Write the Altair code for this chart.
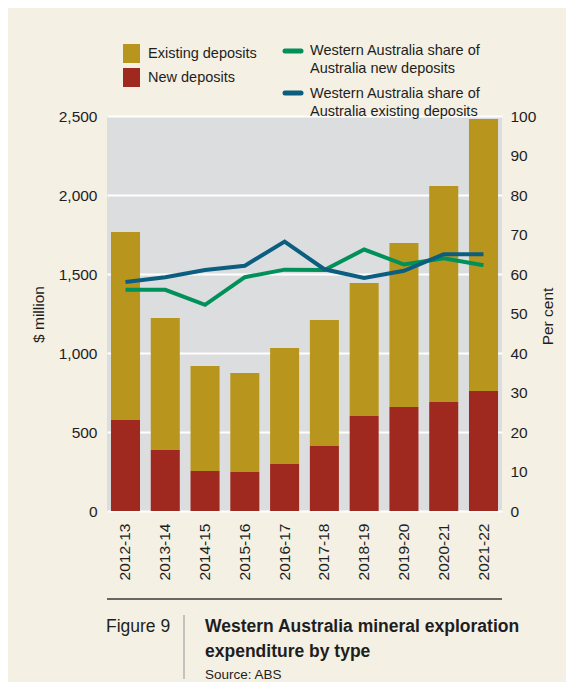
import altair as alt
import pandas as pd

years = ["2012-13", "2013-14", "2014-15", "2015-16", "2016-17",
         "2017-18", "2018-19", "2019-20", "2020-21", "2021-22"]
new_deposits = [576, 386, 253, 247, 297, 411, 601, 658, 690, 759]
existing_deposits = [1190, 836, 665, 626, 735, 798, 842, 1038, 1367, 1722]
share_new = [56, 56, 52.2, 59.2, 61.1, 61, 66.2, 62.4, 64, 62.2]
share_existing = [58, 59.2, 61, 62.1, 68.2, 61.2, 59, 60.8, 65, 65]

FONT = "Liberation Sans Narrow, Arial Narrow, Liberation Sans, Arial"
GOLD = "#B8961D"
RED = "#A0291F"
GREEN = "#00905A"
BLUE = "#0B5E80"
CREAM = "#F4F0E3"
PLOTBG = "#DCDDDF"
TXT = "#1E1E1E"
AX = 15.5

bars_df = pd.DataFrame({
    "year": years * 2,
    "type": ["New deposits"] * 10 + ["Existing deposits"] * 10,
    "value": new_deposits + existing_deposits,
    "order": [0] * 10 + [1] * 10,
})
lines_df = pd.DataFrame({
    "year": years * 2,
    "series": ["new"] * 10 + ["existing"] * 10,
    "pct": share_new + share_existing,
})

W, H = 395, 395

xenc = alt.X("year:N", sort=years,
             scale=alt.Scale(paddingInner=0.27, paddingOuter=0.1),
             axis=alt.Axis(title=None, labelAngle=270, labelAlign="right",
                           labelBaseline="middle", labelPadding=12,
                           labelFontSize=AX, domain=False, ticks=False))

bars = alt.Chart(bars_df).mark_bar().encode(
    x=xenc,
    y=alt.Y("value:Q", stack="zero",
            scale=alt.Scale(domain=[0, 2500], nice=False),
            axis=alt.Axis(title="$ million", values=[0, 500, 1000, 1500, 2000, 2500],
                          format=",.0f", grid=True, gridColor="white", gridWidth=2,
                          domain=False, ticks=False, labelPadding=10,
                          titleX=-69, titleY=198, titleAngle=270, titleAlign="center",
                          titleBaseline="middle",
                          titleFontSize=AX, titleFontWeight="normal",
                          labelFontSize=AX)),
    color=alt.Color("type:N", scale=alt.Scale(domain=["Existing deposits", "New deposits"],
                                             range=[GOLD, RED]), legend=None),
    order=alt.Order("order:Q"),
)

lines = alt.Chart(lines_df).mark_line(strokeWidth=4).encode(
    x=alt.X("year:N", sort=years),
    y=alt.Y("pct:Q", scale=alt.Scale(domain=[0, 100], nice=False),
            axis=alt.Axis(title="Per cent", orient="right", values=list(range(0, 101, 10)),
                          grid=False, domain=False, ticks=False, labelPadding=8,
                          titleX=45, titleY=200, titleAngle=270, titleAlign="center",
                          titleBaseline="middle",
                          titleFontSize=AX, titleFontWeight="normal", labelFontSize=AX)),
    color=alt.Color("series:N", scale=alt.Scale(domain=["new", "existing"],
                                               range=[GREEN, BLUE]), legend=None),
)

one = pd.DataFrame({"a": [0]})

def rect(x1, x2, y1, y2, color):
    return alt.Chart(one).mark_rect(color=color).encode(
        x=alt.value(x1), x2=alt.value(x2), y=alt.value(y1), y2=alt.value(y2))

def rule(x1, x2, y1, y2, color, w, cap="butt"):
    return alt.Chart(one).mark_rule(color=color, strokeWidth=w, strokeCap=cap).encode(
        x=alt.value(x1), x2=alt.value(x2), y=alt.value(y1), y2=alt.value(y2))

def text(t, x, y, size, weight="normal", baseline="middle", lh=None):
    kw = dict(align="left", baseline=baseline, font=FONT, fontSize=size,
              fontWeight=weight, color=TXT, lineBreak="\n")
    if lh:
        kw["lineHeight"] = lh
    return alt.Chart(pd.DataFrame({"t": [t]})).mark_text(**kw).encode(
        text="t:N", x=alt.value(x), y=alt.value(y))

LG = 14.5
legend = [
    rect(16, 33, -72, -53, GOLD),
    rect(16, 33, -48, -29, RED),
    text("Existing deposits", 41, -62, LG),
    text("New deposits", 41, -38, LG),
    rule(178, 194, -65, -65, GREEN, 5, "round"),
    text("Western Australia share of\nAustralia new deposits", 203, -65, LG, lh=17.5),
    rule(178, 194, -23, -23, BLUE, 5, "round"),
    text("Western Australia share of\nAustralia existing deposits", 203, -22, LG, lh=17.5),
]

caption = [
    rule(0, 395, 483, 483, "#3A3A3A", 1.5),
    text("Figure 9", -1, 516, 17.5, baseline="alphabetic"),
    rule(77, 77, 499, 563, "#B5B5B5", 1.5),
    text("Western Australia mineral exploration\nexpenditure by type", 98, 516, 17.5,
         weight="bold", baseline="alphabetic", lh=25),
    text("Source: ABS", 98, 563, 13.5, baseline="alphabetic"),
]

main = alt.layer(bars, lines).resolve_scale(y="independent", color="independent")

chart = alt.layer(main, *legend, *caption).properties(
    width=W, height=H,
    background=CREAM,
    padding={"left": 99, "top": 108, "right": 64, "bottom": 171},
    autosize=alt.AutoSizeParams(type="none"),
).configure_view(fill=PLOTBG, stroke=None).configure_axis(
    labelFont=FONT, titleFont=FONT, labelColor=TXT, titleColor=TXT,
).configure_text(font=FONT)

chart.save("out.html", embed_options={"renderer": "svg", "actions": False})
